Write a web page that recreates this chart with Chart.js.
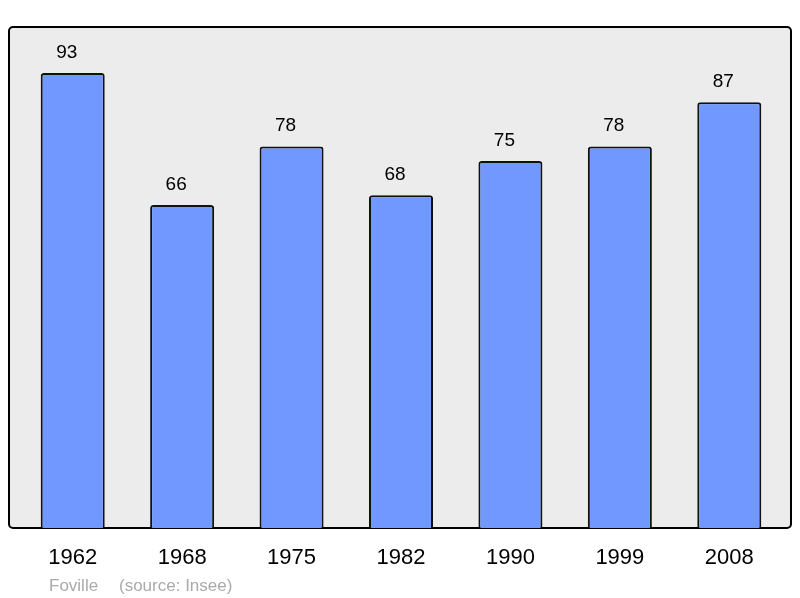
<!DOCTYPE html>
<html>
<head>
<meta charset="utf-8">
<script src="https://cdn.jsdelivr.net/npm/chart.js@4"></script>
<style>
  body { margin: 0; background: #fff; }
  canvas { display: block; }
</style>
</head>
<body>
<canvas id="popChart" width="800" height="598"></canvas>
<script>
const years = ['1962', '1968', '1975', '1982', '1990', '1999', '2008'];
const population = [93, 66, 78, 68, 75, 78, 87];
const yMax = 102.4;

// background box, value labels, year labels, footer
const decorPlugin = {
    id: 'decor',
    beforeDraw(chart) {
        const c = chart.ctx;
        c.save();
        c.fillStyle = '#ececec';
        c.strokeStyle = '#000';
        c.lineWidth = 2;
        c.beginPath();
        c.roundRect(9, 27, 782, 501, 4);
        c.fill();
        c.stroke();
        c.restore();
    },
    afterDraw(chart) {
        const c = chart.ctx;
        const xs = chart.scales.x;
        const ys = chart.scales.y;
        c.save();
        c.fillStyle = '#000';
        c.textAlign = 'center';
        c.textBaseline = 'alphabetic';
        c.font = '19px "Liberation Sans", Arial, sans-serif';
        population.forEach((v, i) => {
            c.fillText(String(v), xs.getPixelForValue(i) - 6, ys.getPixelForValue(v) - 15);
        });
        c.font = '22px "Liberation Sans", Arial, sans-serif';
        years.forEach((y, i) => {
            c.fillText(y, xs.getPixelForValue(i), 564);
        });
        c.fillStyle = '#aaaaaa';
        c.textAlign = 'left';
        c.font = '17px "Liberation Sans", Arial, sans-serif';
        c.fillText('Foville', 49, 591);
        c.fillText('(source: Insee)', 119, 591);
        c.restore();
    }
};

const ctx = document.getElementById('popChart').getContext('2d');
const popChart = new Chart(ctx, {
    type: 'bar',
    data: {
        labels: years,
        datasets: [{
            data: population,
            backgroundColor: '#7098ff',
            borderColor: '#111',
            borderWidth: 2,
            borderRadius: 3,
            borderSkipped: 'bottom',
            barPercentage: 0.585,
            categoryPercentage: 1
        }]
    },
    options: {
        responsive: false,
        animation: false,
        layout: { padding: { left: 18, right: 16, top: 27, bottom: 70 } },
        plugins: {
            legend: { display: false },
            tooltip: { enabled: false }
        },
        scales: {
            x: { display: false },
            y: { display: false, min: 0, max: yMax }
        }
    },
    plugins: [decorPlugin]
});
</script>
</body>
</html>
